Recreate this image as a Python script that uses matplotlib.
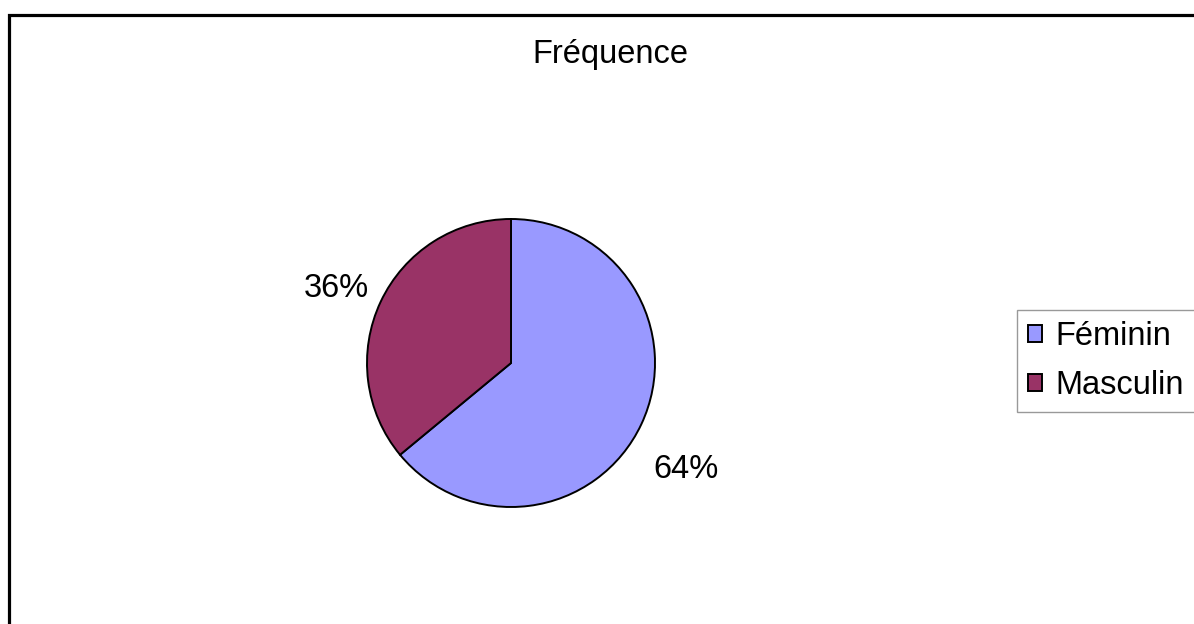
import matplotlib.pyplot as plt
from matplotlib.patches import Rectangle

plt.rcParams['font.family'] = ['Liberation Sans', 'DejaVu Sans']

# Data
categories = ['Féminin', 'Masculin']
shares = [64, 36]
colors = ['#9999FF', '#993366']
title = 'Fréquence'

W, H = 1194, 624
FS = 23.5
fig = plt.figure(figsize=(W / 100, H / 100), dpi=100)
fig.patch.set_facecolor('white')

# outer chart frame, runs off the right and bottom edges
frame = Rectangle((9 / W, -0.05), 1.1, 1 - 15 / H + 0.05, transform=fig.transFigure,
                  fill=False, edgecolor='black', linewidth=2.3, clip_on=False)
fig.patches.append(frame)

fig.text(610 / W, 1 - 55 / H, title, ha='center', va='center', fontsize=FS)

# pie axes: centre (511, 363) px, radius 144 px
cx, cy, r = 511, 363, 144
ax = fig.add_axes([(cx - r) / W, (H - cy - r) / H, 2 * r / W, 2 * r / H])

wedges, texts, autotexts = ax.pie(
    shares, colors=colors, startangle=90, counterclock=False, radius=1,
    autopct='%d%%', pctdistance=1.35,
    wedgeprops=dict(edgecolor='black', linewidth=1.4),
    textprops=dict(fontsize=FS))
ax.set_xlim(-1, 1)
ax.set_ylim(-1, 1)
ax.set_aspect('equal')
ax.axis('off')

# nudge the percentage labels out beside the pie
label_pos = [(1.215, -0.74), (-1.21, 0.52)]
for t, (x, y) in zip(autotexts, label_pos):
    t.set_position((x, y))
    t.set_ha('center')
    t.set_va('center')
    t.set_clip_on(False)

leg = fig.legend(wedges, categories, loc='upper left',
                 bbox_to_anchor=(1017 / W, 1 - 310 / H), borderaxespad=0,
                 fontsize=FS, frameon=True, fancybox=False, shadow=False,
                 handlelength=0.43, handleheight=0.43, handletextpad=0.4,
                 labelspacing=0.55, borderpad=0.34)
leg.get_frame().set_edgecolor('#808080')
leg.get_frame().set_linewidth(1.0)

fig.savefig('out.png', dpi=100, facecolor='white')
